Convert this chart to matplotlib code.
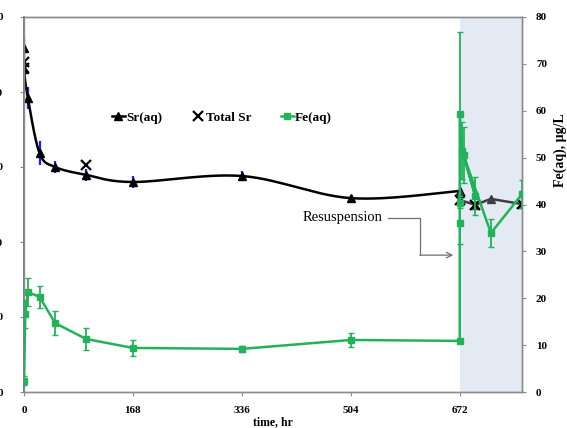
import numpy as np
import matplotlib.pyplot as plt
from matplotlib.lines import Line2D

# Sr(aq) before resuspension (left axis)
sr_t = [0, 0, 6, 24, 48, 96, 168, 336, 504, 672]
sr_val = [91.7, 86.1, 78.4, 63.7, 60.0, 57.9, 56.0, 57.6, 51.7, 53.6]
sr_err = [3.0, 1.0, 3.0, 3.2, 1.5, 1.5, 1.6, 1.2, 0.8, 1.0]

# Sr(aq) after resuspension
sr2_t = [672, 672, 696, 720, 768]
sr2_val = [53.1, 51.2, 49.9, 51.5, 50.1]
sr2_err = [3.5, 1.0, 1.0, 0.8, 0.5]

# Total Sr
tot_t = [0, 0, 96, 672, 696, 768]
tot_val = [88.0, 86.5, 60.5, 51.2, 49.9, 50.1]

# Fe(aq), ug/L (right axis)
fe_t = [0, 2, 6, 24, 48, 96, 168, 336, 504, 672, 672, 672, 672, 676, 696, 678, 720, 768]
fe_val = [2.4, 16.6, 21.3, 20.3, 14.7, 11.3, 9.4, 9.2, 11.1, 10.9, 36.0, 40.3, 59.3, 51.5, 41.8, 50.5, 33.9, 42.2]
fe_err = [1.0, 3.0, 3.0, 2.3, 2.5, 2.3, 1.8, 0.7, 1.5, 0.5, 4.5, 1.0, 17.5, 6.0, 4.0, 6.0, 3.0, 3.0]

xticks = [0, 168, 336, 504, 672]
left_ticks = [0, 20, 40, 60, 80, 100]
right_ticks = [0, 10, 20, 30, 40, 50, 60, 70, 80]

plt.rcParams['font.family'] = ['Liberation Serif', 'DejaVu Serif']

GREEN = '#22b35a'
GRAY = '#8c8c8c'


def smooth(x, y, sx, sy, n=30):
    # excel style smoothed line (bezier through points, in pixel-like space)
    p = np.column_stack([np.asarray(x, float) * sx, np.asarray(y, float) * sy])
    pts = np.vstack([p[0], p, p[-1]])
    out = []
    s = np.linspace(0, 1, n)[:, None]
    for i in range(1, len(pts) - 2):
        p0, p1, p2, p3 = pts[i - 1], pts[i], pts[i + 1], pts[i + 2]
        c1 = p1 + (p2 - p0) / 6
        c2 = p2 - (p3 - p1) / 6
        seg = (1 - s) ** 3 * p1 + 3 * (1 - s) ** 2 * s * c1 + 3 * (1 - s) * s ** 2 * c2 + s ** 3 * p2
        out.append(seg)
    out = np.vstack(out)
    return out[:, 0] / sx, out[:, 1] / sy


fig = plt.figure(figsize=(5.67, 4.28), dpi=100)
ax = fig.add_axes([24 / 567, 36 / 428, 498 / 567, 375 / 428])
ax2 = ax.twinx()

ax.set_xlim(0, 768)
ax.set_ylim(0, 100)
ax2.set_ylim(0, 80)

ax.axvspan(672, 768, color='#e4eaf4', zorder=0, lw=0)

# Sr(aq)
sx, sy = 498 / 768, 375 / 100
xs, ys = smooth(sr_t, sr_val, sx, sy)
ax.plot(xs, ys, color='black', lw=1.8, zorder=4)
ax.errorbar(sr_t, sr_val, yerr=sr_err, fmt='none', ecolor='#1a1aff', elinewidth=1.6, capsize=0, zorder=3)
ax.plot(sr_t, sr_val, ls='none', marker='^', ms=6, color='black', zorder=5)
ax.errorbar(sr2_t, sr2_val, yerr=sr2_err, fmt='none', ecolor='#3a3aff', elinewidth=1.6, capsize=0, zorder=3)
ax.plot(sr2_t, sr2_val, color='#3d3d45', lw=1.8, marker='^', ms=6, zorder=5)

# Total Sr
ax.plot(tot_t, tot_val, ls='none', marker='x', ms=7, mew=1.6, color='black', zorder=6)

# Fe(aq)
ax2.errorbar(fe_t, fe_val, yerr=fe_err, fmt='none', ecolor=GREEN, elinewidth=1.3, capsize=2, capthick=1.0, zorder=3)
ax2.plot(fe_t, fe_val, color=GREEN, lw=1.8, marker='s', ms=5, zorder=4)

for a in (ax, ax2):
    for sp in a.spines.values():
        sp.set_color(GRAY)
        sp.set_linewidth(1.0)
ax.spines['left'].set_color('#707070')
ax.spines['left'].set_linewidth(1.3)

ax.set_xticks(xticks)
ax.set_xticklabels([str(v) for v in xticks], fontweight='bold', fontsize=8)
ax.tick_params(axis='x', length=3, color=GRAY, pad=7)
ax.set_yticks(left_ticks)
ax.set_yticklabels([str(v) for v in left_ticks], fontweight='bold', fontsize=8)
ax.tick_params(axis='y', length=3, color=GRAY, pad=12)
ax2.set_yticks(right_ticks)
ax2.set_yticklabels([str(v) for v in right_ticks], fontweight='bold', fontsize=8)
ax2.tick_params(axis='y', length=3, color=GRAY, pad=7)

ax.set_xlabel('time, hr', fontweight='bold', fontsize=8.5, labelpad=1)
fig.text(560 / 567, (428 - 150) / 428, 'Fe(aq), µg/L', rotation=90, fontweight='bold',
         fontsize=10, ha='center', va='center')

# annotation
ax.text(0.719, 0.464, 'Resuspension', transform=ax.transAxes, ha='right', va='center', fontsize=10.5)
ax.plot([0.731, 0.795, 0.795], [0.464, 0.464, 0.365], transform=ax.transAxes, color='#707070', lw=0.9, zorder=2)
ax.annotate('', xy=(0.862, 0.365), xytext=(0.795, 0.365), xycoords='axes fraction',
            arrowprops=dict(arrowstyle='->', color='#707070', lw=0.9, shrinkA=0, shrinkB=0))

handles = [
    Line2D([], [], color='black', lw=1.8, marker='^', ms=6),
    Line2D([], [], ls='none', color='black', marker='x', ms=7, mew=1.6),
    Line2D([], [], color=GREEN, lw=1.8, marker='s', ms=5),
]
fig.legend(handles, ['Sr(aq)', 'Total Sr', 'Fe(aq)'], ncol=3, frameon=False,
           loc='center', bbox_to_anchor=(222 / 567, (428 - 118) / 428),
           prop={'weight': 'bold', 'size': 9.5}, handlelength=1.0, handletextpad=0.1,
           columnspacing=2.2)

fig.savefig('out.png', dpi=100)
